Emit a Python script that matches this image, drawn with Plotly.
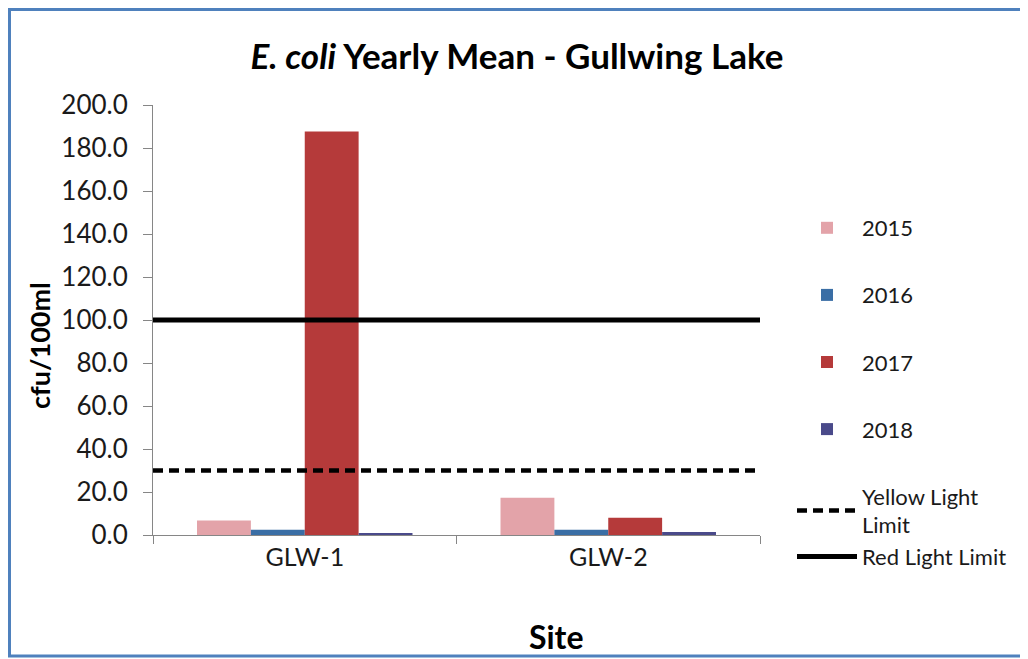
import plotly.graph_objects as go

sites = ["GLW-1", "GLW-2"]
years = ["2015", "2016", "2017", "2018"]
values = {
    "2015": [6.8, 17.3],
    "2016": [2.4, 2.4],
    "2017": [187.7, 8.0],
    "2018": [0.6, 1.4],
}
colors = {
    "2015": "#e3a3a9",
    "2016": "#3a6ea5",
    "2017": "#b53a3a",
    "2018": "#4a4a8a",
}
yellow_limit = 30.0
red_limit = 100.0

FONT = "Lato, 'Open Sans', sans-serif"
OFF = 8  # page body margin
W, H = 1028 - OFF, 659 - OFF
L, R, T, B = 153 - OFF, 760 - OFF, 105 - OFF, 535 - OFF

fig = go.Figure()
for yr in years:
    fig.add_trace(go.Bar(
        x=sites, y=values[yr], name=yr, marker_color=colors[yr],
        marker_line_width=0, legendgroup=yr,
    ))

fig.add_trace(go.Scatter(
    x=[0, 1], y=[yellow_limit, yellow_limit], xaxis="x2", mode="lines",
    line=dict(color="black", width=4.5, dash="10px,6px"),
    name="Yellow Light<br>Limit", legendgroup="limits",
))
fig.add_trace(go.Scatter(
    x=[0, 1], y=[red_limit, red_limit], xaxis="x2", mode="lines",
    line=dict(color="black", width=5),
    name="Red Light Limit", legendgroup="limits",
))

def px_x(p):
    return (p - OFF - L) / (R - L)

def px_y(p):
    return (B - (p - OFF)) / (B - T)

fig.update_layout(
    width=W, height=H,
    margin=dict(l=L, r=W - R, t=T, b=H - B, autoexpand=False),
    paper_bgcolor="white", plot_bgcolor="white",
    font=dict(family=FONT, color="#1a1a1a"),
    barmode="group", bargap=0.29, bargroupgap=0,
    showlegend=True,
    title=dict(
        text="<b><i>E. coli</i> Yearly Mean - Gullwing Lake</b>",
        x=(517 - OFF) / W, xref="container", xanchor="center",
        y=1 - (57 - OFF) / H, yref="container", yanchor="middle",
        font=dict(family=FONT, size=35, color="black"),
    ),
    xaxis=dict(
        type="category", showline=True, linecolor="#868686", linewidth=1,
        ticks="outside", tickson="boundaries", ticklen=8, tickcolor="#868686",
        tickfont=dict(family=FONT, size=25, color="#1a1a1a"),
        showgrid=False, zeroline=False,
    ),
    xaxis2=dict(overlaying="x", range=[0, 1], visible=False, showgrid=False),
    yaxis=dict(
        range=[0, 200], dtick=20, tickformat=".1f",
        showline=True, linecolor="#868686", linewidth=1,
        ticks="outside", ticklen=9, tickcolor="#868686",
        ticklabelstandoff=10,
        tickfont=dict(family=FONT, size=26, color="#1a1a1a"),
        showgrid=False, zeroline=False,
    ),
    legend=dict(
        x=px_x(792), y=px_y(207), xanchor="left", yanchor="top",
        font=dict(family=FONT, size=22, color="#1a1a1a"),
        tracegroupgap=35.5, itemwidth=60, bgcolor="rgba(0,0,0,0)",
        traceorder="grouped",
    ),
    annotations=[
        dict(text="<b>cfu/100ml</b>", textangle=-90, xref="paper", yref="paper",
             x=px_x(39), y=px_y(346), xanchor="center", yanchor="middle",
             showarrow=False, font=dict(family=FONT, size=27, color="black")),
        dict(text="<b>Site</b>", xref="paper", yref="paper",
             x=px_x(556), y=px_y(636), xanchor="center", yanchor="middle",
             showarrow=False, font=dict(family=FONT, size=32, color="black")),
    ],
    shapes=[
        dict(type="rect", xref="paper", yref="paper",
             x0=px_x(9.5), x1=px_x(1025), y0=px_y(656), y1=px_y(9.5),
             line=dict(color="#4f81bd", width=3), layer="below"),
    ],
)

fig.write_html("out.html")
